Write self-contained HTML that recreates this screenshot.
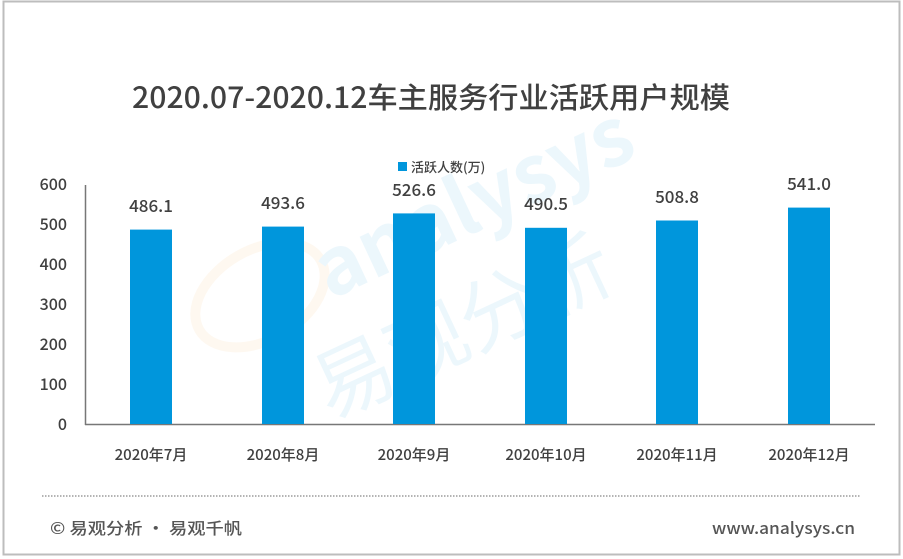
<!DOCTYPE html>
<html><head><meta charset="utf-8"><style>
body{margin:0;width:903px;height:559px;background:#fff;overflow:hidden}
svg{display:block}
text{font-family:"Noto Sans CJK SC","Liberation Sans",sans-serif}
</style></head><body>
<svg width="903" height="559" viewBox="0 0 903 559">
<rect x="3.5" y="1.5" width="896" height="553" fill="#fff" stroke="#bdbdbd" stroke-width="2"/>
<text x="132" y="108" font-size="29" fill="#404040" font-weight="500" textLength="598" lengthAdjust="spacingAndGlyphs">2020.07-2020.12车主服务行业活跃用户规模</text>
<g opacity="0.07">
<ellipse cx="260" cy="295" rx="70" ry="45" transform="rotate(-30 260 295)" fill="none" stroke="#f7a340" stroke-width="10"/>
<text x="330" y="300" font-size="80" fill="#0096dc" font-weight="bold" transform="rotate(-25 330 300)">analysys</text>
<text x="330" y="420" font-size="80" fill="#0096dc" transform="rotate(-25 330 420)">易观分析</text>
</g>
<rect x="398" y="162" width="9" height="9" fill="#0096dc"/>
<text x="411" y="172" font-size="13" fill="#404040" font-weight="500">活跃人数(万)</text>
<g font-size="16" fill="#404040" text-anchor="end" font-weight="500">
<text x="67" y="190">600</text><text x="67" y="230">500</text><text x="67" y="270">400</text>
<text x="67" y="310">300</text><text x="67" y="350">200</text><text x="67" y="390">100</text><text x="67" y="430">0</text>
</g>
<line x1="85.5" y1="185" x2="85.5" y2="425" stroke="#777" stroke-width="1.5"/>
<line x1="85" y1="424.5" x2="875" y2="424.5" stroke="#777" stroke-width="1.5"/>
<g fill="#0096dc">
<rect x="130" y="229.6" width="42" height="194.4"/>
<rect x="262" y="226.6" width="42" height="197.4"/>
<rect x="393" y="213.4" width="42" height="210.6"/>
<rect x="525" y="227.8" width="42" height="196.2"/>
<rect x="656" y="220.5" width="42" height="203.5"/>
<rect x="788" y="207.6" width="42" height="216.4"/>
</g>
<g font-size="17" fill="#404040" text-anchor="middle" font-weight="500">
<text x="151" y="212">486.1</text><text x="283" y="209">493.6</text><text x="414" y="196">526.6</text>
<text x="546" y="210">490.5</text><text x="677" y="203">508.8</text><text x="809" y="190">541.0</text>
</g>
<g font-size="15" fill="#404040" text-anchor="middle" font-weight="500">
<text x="151" y="460">2020年7月</text><text x="283" y="460">2020年8月</text><text x="414" y="460">2020年9月</text>
<text x="546" y="460">2020年10月</text><text x="677" y="460">2020年11月</text><text x="809" y="460">2020年12月</text>
</g>
<line x1="42" y1="496" x2="860" y2="496" stroke="#888" stroke-width="1.2" stroke-dasharray="1.5 1.5"/>
<text x="50" y="534" font-size="16" fill="#555" font-weight="500" textLength="192" lengthAdjust="spacingAndGlyphs">© 易观分析 · 易观千帆</text>
<text x="712" y="534" font-size="16" fill="#555" font-weight="500" textLength="143" lengthAdjust="spacingAndGlyphs">www.analysys.cn</text>
</svg>
</body></html>
